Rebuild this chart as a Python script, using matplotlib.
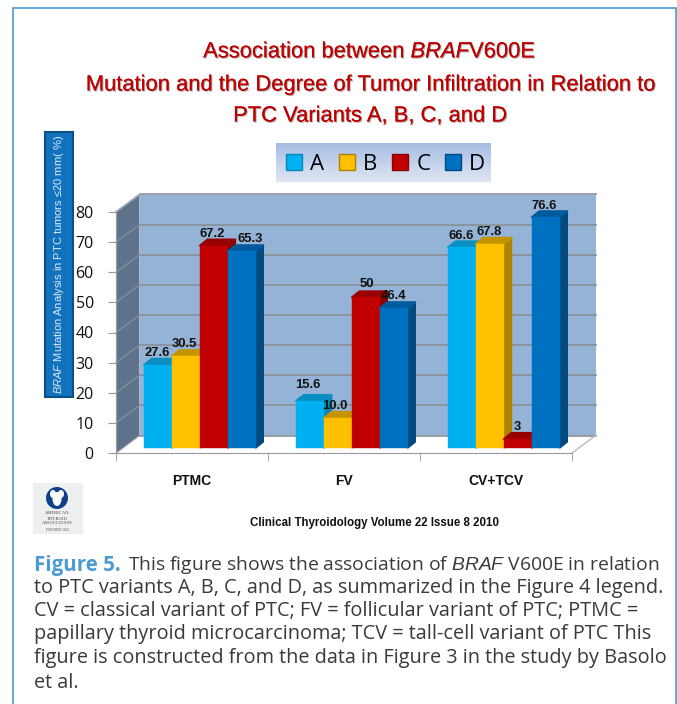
"""Association between BRAF V600E and tumor infiltration, PTC variants A-D"""
import numpy as np
from matplotlib import pyplot as plt
from matplotlib.colors import LinearSegmentedColormap
from matplotlib.patches import Patch, Rectangle, Ellipse
import matplotlib.patheffects as pe

# data
groups = ['PTMC', 'FV', 'CV+TCV']
variants = ['A', 'B', 'C', 'D']
values_a = [27.6, 15.6, 66.6]
values_b = [30.5, 10.0, 67.8]
values_c = [67.2, 50, 3]
values_d = [65.3, 46.4, 76.6]
labels_a = ['27.6', '15.6', '66.6']
labels_b = ['30.5', '10.0', '67.8']
labels_c = ['67.2', '50', '3']
labels_d = ['65.3', '46.4', '76.6']
yticks = [0, 10, 20, 30, 40, 50, 60, 70, 80]

W, H = 677, 704
plt.rcParams['mathtext.fontset'] = 'custom'
plt.rcParams['mathtext.rm'] = 'Liberation Sans'
plt.rcParams['mathtext.it'] = 'Liberation Sans:italic'

SANS = 'Liberation Sans'
fig = plt.figure(figsize=(W / 100, H / 100), dpi=100, facecolor='white')

# page overlay in pixel coordinates
page = fig.add_axes([0, 0, 1, 1])
page.set_xlim(0, W)
page.set_ylim(H, 0)
page.axis('off')

# frame
frame_col = '#5b9fd0'
page.plot([13, 13, 676, 676], [704, 7.5, 7.5, 704], color=frame_col, lw=1.3)

# title
title_lines = [r'Association between $\mathit{BRAF}$V600E',
               'Mutation and the Degree of Tumor Infiltration in Relation to',
               'PTC Variants A, B, C, and D']
for line, ty in zip(title_lines, [52, 85, 116]):
    t = page.text(370, ty, line, color='#c00000', fontsize=15.8, ha='center', va='center', family=SANS)
    t.set_path_effects([pe.withSimplePatchShadow(offset=(0.8, -0.8), shadow_rgbFace='#777777', alpha=0.6),
                        pe.Normal()])

# y label box
page.add_patch(Rectangle((45, 132), 28, 265, facecolor='#1172bd', edgecolor='#0c4f86', lw=1.5))
page.text(59.5, 264.5, r'$\mathit{BRAF}$ Mutation Analysis in PTC tumors ≤20 mm( %)', color='#dfe9f5',
          rotation=90, fontsize=8.0, ha='center', va='center', family=SANS)

# legend background
grad = np.linspace(0, 1, 40).reshape(-1, 1)
legend_cmap = LinearSegmentedColormap.from_list('lg', ['#a6bde4', '#dfe6f3'])
page.imshow(grad, extent=(276, 491, 182, 143), cmap=legend_cmap, aspect='auto', origin='upper')
page.set_xlim(0, W)
page.set_ylim(H, 0)

# logo
page.add_patch(Rectangle((33, 483), 50, 51, facecolor='#eef0f0', edgecolor='none'))
page.add_patch(Ellipse((57, 498), 22, 22, facecolor='#123f8c', edgecolor='none'))
page.add_patch(Ellipse((57, 499), 9, 14, facecolor='white', edgecolor='none'))
page.add_patch(Ellipse((53, 494), 6, 8, facecolor='white', edgecolor='none'))
page.add_patch(Ellipse((61, 494), 6, 8, facecolor='white', edgecolor='none'))
for txt, ly, fs in zip(['AMERICAN', 'THYROID', 'ASSOCIATION', 'FOUNDED 1923'], [513.5, 518.5, 523.5, 530],
                       [3.3, 3.3, 3.3, 2.3]):
    page.text(57, ly, txt, fontsize=fs, color='#444444', ha='center', va='center', family='Liberation Serif')

# footer
page.text(374.5, 523, 'Clinical Thyroidology Volume 22 Issue 8 2010', fontsize=8.3, fontweight='bold',
          color='#111111', ha='center', va='center', family=SANS)

# caption
cap_font = 'Open Sans'
cap_col = '#3a3a3a'
page.text(34, 565, 'Figure 5.', color='#4c9bd2', fontsize=14.8, fontweight='bold', va='center', family=cap_font)
page.text(128, 565, 'This figure shows the association of $\\mathit{BRAF}$ V600E in relation', color=cap_col,
          fontsize=13.9, va='center', family=cap_font)
caption = ['to PTC variants A, B, C, and D, as summarized in the Figure 4 legend.',
           'CV = classical variant of PTC; FV = follicular variant of PTC; PTMC =',
           'papillary thyroid microcarcinoma; TCV = tall-cell variant of PTC This',
           'figure is constructed from the data in Figure 3 in the study by Basolo',
           'et al.']
for line, cy in zip(caption, [588, 611, 634, 658, 683]):
    page.text(34, cy, line, color=cap_col, fontsize=14.3, va='center', family=cap_font)

# chart axes, front plane
ax = fig.add_axes([116 / W, (H - 453) / H, 456 / W, 241 / H])
ax.set_xlim(0, 3)
ax.set_ylim(0, 80)
ax.patch.set_visible(False)
xpx = 456 / 3
ypx = 241 / 80

wall_dx, wall_dy = 23.5 / xpx, 17.5 / ypx
ax.fill([wall_dx, 3 + wall_dx, 3 + wall_dx, wall_dx], [wall_dy, wall_dy, 80 + wall_dy, 80 + wall_dy],
        color='#95b3d7', zorder=1, lw=0, clip_on=False)
ax.fill([0, wall_dx, wall_dx, 0], [0, wall_dy, 80 + wall_dy, 80], color='#5f748c', zorder=1, lw=0, clip_on=False)
ax.fill([0, 3, 3 + wall_dx, wall_dx], [0, 0, wall_dy, wall_dy], color='white', zorder=1, lw=0, clip_on=False)
for yv in yticks:
    ax.plot([wall_dx, 3 + wall_dx], [yv + wall_dy] * 2, color='#8a8f96', lw=1.2, zorder=2, clip_on=False)
    ax.plot([0, wall_dx], [yv, yv + wall_dy], color='#8494a6', lw=0.8, zorder=2, clip_on=False)
ax.plot([3, 3 + wall_dx], [0, wall_dy], color='#b5bcc4', lw=1, zorder=2, clip_on=False)
ax.plot([0, wall_dx, 3 + wall_dx], [80, 80 + wall_dy, 80 + wall_dy], color='#9aa5b1', lw=1.2, zorder=2, clip_on=False)

# bars
series = [values_a, values_b, values_c, values_d]
series_labels = [labels_a, labels_b, labels_c, labels_d]
colors = ['#00b0f0', '#ffc000', '#c00000', '#0070c0']
side_cols = ['#0a86b6', '#ad8200', '#8c0000', '#004a80']
top_cols = ['#0a8fc2', '#c49400', '#990000', '#005a9e']
bar_w = 27.9 / xpx
bar_dx, bar_dy = 8 / xpx, 5 / ypx
top_dx, top_dy = 7.5 / xpx, 6 / ypx
# label nudges in pixels from the bar top centre, per group then variant
label_nudge = [[(-1, 12), (-2, 12), (-2, 12), (8, 12)],
               [(-2, 16), (-3, 12), (1, 13), (0, 12)],
               [(-1, 11), (-1, 12), (-1, 12), (-2, 11)]]

for g in range(len(groups)):
    for s in range(len(variants)):
        v = series[s][g]
        x0 = g + 0.5 + bar_dx + (s - 2) * bar_w
        x1 = x0 + bar_w
        y1 = bar_dy + v
        ax.fill([x1, x1 + top_dx, x1 + top_dx, x1], [bar_dy, bar_dy + top_dy, y1 + top_dy, y1],
                facecolor=side_cols[s], edgecolor=side_cols[s], lw=1, joinstyle='round', zorder=3, clip_on=False)
        ax.fill([x0, x1, x1 + top_dx, x0 + top_dx], [y1, y1, y1 + top_dy, y1 + top_dy],
                facecolor=top_cols[s], edgecolor=top_cols[s], lw=1.5, joinstyle='round', zorder=3, clip_on=False)
        ax.bar(x0, v, bar_w, bottom=bar_dy, align='edge', color=colors[s], edgecolor=colors[s], lw=0.3,
               zorder=3, clip_on=False)

for g in range(len(groups)):
    for s in range(len(variants)):
        x0 = g + 0.5 + bar_dx + (s - 2) * bar_w
        nudge = label_nudge[g][s]
        ax.annotate(series_labels[s][g], (x0 + bar_w / 2, bar_dy + series[s][g]), xytext=nudge,
                    textcoords='offset pixels', ha='center', va='center', fontsize=9.4, fontweight='bold',
                    color='#111111', family=SANS, zorder=5, annotation_clip=False)

# axes furniture
for side in ['top', 'right']:
    ax.spines[side].set_visible(False)
for side in ['left', 'bottom']:
    ax.spines[side].set_color('#9a9a9a')
    ax.spines[side].set_zorder(2.5)
ax.set_yticks(yticks)
ax.tick_params(axis='y', length=6, color='#9a9a9a', pad=10, labelsize=11.5, labelcolor='#111111')
for lab in ax.get_yticklabels():
    lab.set_family('Open Sans')
ax.set_xticks([0.5, 1.5, 2.5])
ax.set_xticklabels(groups, fontsize=10, fontweight='bold', family=SANS, color='#111111')
ax.set_xticks([0, 1, 2, 3], minor=True)
ax.tick_params(axis='x', which='major', length=0, pad=15)
ax.tick_params(axis='x', which='minor', length=6, color='#9a9a9a')

# legend
handles = [Patch(facecolor=c, edgecolor=e, lw=1) for c, e in zip(colors, side_cols)]
leg = ax.legend(handles, variants, loc='center', bbox_to_anchor=(385.5 / W, 1 - 164 / H),
                bbox_transform=fig.transFigure, ncol=4, frameon=False, handlelength=0.72,
                handleheight=0.72, handletextpad=0.36, columnspacing=0.68,
                prop={'family': 'Open Sans', 'size': 16})

fig.savefig('out.png', dpi=100)
